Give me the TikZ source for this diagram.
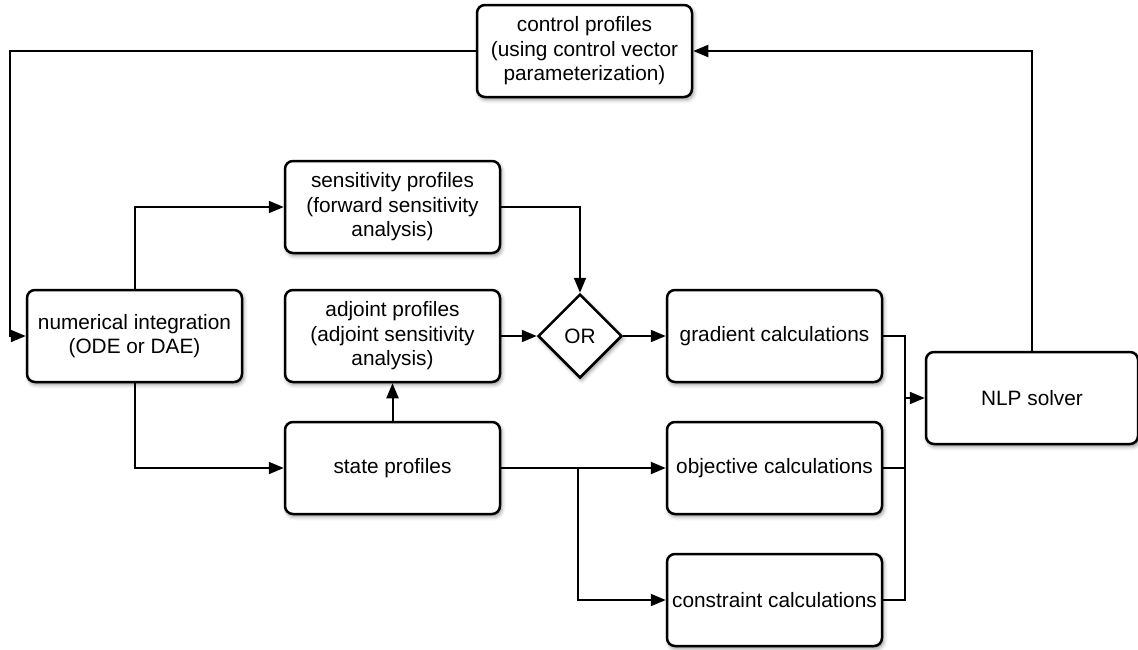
\documentclass[tikz,border=0pt]{standalone}
\usepackage{fontspec}
\setmainfont{Liberation Sans}
\usetikzlibrary{arrows.meta,shapes.geometric,shadows.blur}
\begin{document}
\begin{tikzpicture}[x=1pt,y=-1pt,
  shad/.style={blur shadow={shadow xshift=1.5pt, shadow yshift=-2.5pt, shadow blur radius=4pt, shadow opacity=45}},
  box/.style={draw=black, line width=2.5pt, rounded corners=8pt, fill=white,
    minimum width=215pt, minimum height=92pt, align=center, inner sep=2pt,
    font=\fontsize{20.8pt}{24.5pt}\selectfont, shad},
  dia/.style={draw=black, line width=2.5pt, diamond, fill=white, aspect=1,
    minimum width=84pt, minimum height=84pt, inner sep=0pt,
    font=\fontsize{20.8pt}{24.5pt}\selectfont, shad},
  conn/.style={line width=2pt, -{Triangle[length=15pt,width=12pt]}},
  plain/.style={line width=2pt}
]
\useasboundingbox (0,0) rectangle (1138,649);

\node[box] (ctrl) at (584.5,51) {control profiles\\(using control vector\\parameterization)};
\node[box] (num) at (134.5,336) {numerical integration\\(ODE or DAE)};
\node[box] (sens) at (392.5,207) {sensitivity profiles\\(forward sensitivity\\analysis)};
\node[box] (adj) at (392.5,336) {adjoint profiles\\(adjoint sensitivity\\analysis)};
\node[box] (state) at (392.5,468) {state profiles};
\node[dia] (or) at (580,336) {OR};
\node[box] (grad) at (774.5,336) {gradient calculations};
\node[box] (obj) at (774.5,468) {objective calculations};
\node[box] (cons) at (774.5,600) {constraint calculations};
\node[box, minimum width=212pt] (nlp) at (1032,398) {NLP solver};

\coordinate (j) at (905,398);

\draw[conn] (ctrl.west) -- (10,51) |- (num.west);
\draw[conn] (num.north) |- (sens.west);
\draw[conn] (num.south) |- (state.west);
\draw[conn] (state.north) -- (adj.south);
\draw[conn] (sens.east) -| (or.north);
\draw[conn] (adj.east) -- (or.west);
\draw[conn] (or.east) -- (grad.west);
\draw[conn] (state.east) -- (obj.west);
\draw[conn] (578,468) |- (cons.west);
\draw[plain] (grad.east) -| (905,600) -- (cons.east);
\draw[plain] (obj.east) -- (905,468);
\draw[conn] (j) -- (nlp.west);
\draw[conn] (nlp.north) |- (ctrl.east);
\end{tikzpicture}
\end{document}
